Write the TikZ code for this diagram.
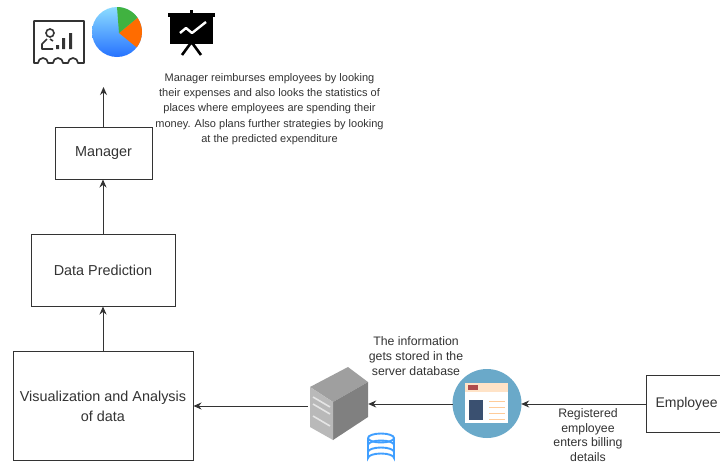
\documentclass[tikz,border=0pt]{standalone}
\usepackage{fontspec}
\setmainfont{Liberation Sans}
\usetikzlibrary{arrows.meta,positioning}
\definecolor{ink}{HTML}{333333}
\definecolor{webblue}{HTML}{6AA9C9}
\definecolor{webpanel}{HTML}{3A5070}
\tikzset{
  x=1pt,y=-1pt,
  boxn/.style={draw=ink,line width=1pt,fill=white,align=center,text=ink,font=\fontsize{14.4}{20}\selectfont,inner sep=2pt},
  note/.style={align=center,text=ink,inner sep=0pt},
  flow/.style={draw=ink,line width=1pt,-{Stealth[length=8pt,width=7pt]}},
  iconspot/.style={inner sep=0pt,minimum width=#1,minimum height=#1},
}
\begin{document}
\begin{tikzpicture}
\useasboundingbox (0,0) rectangle (720,464);
\fill[white] (0,0) rectangle (720,464);
% boxes
\node[boxn,minimum width=97pt,minimum height=52pt] (mgr) at (103.5,153) {Manager};
\node[boxn,minimum width=144pt,minimum height=72pt] (pred) at (103,270) {Data Prediction};
\node[boxn,minimum width=180pt,minimum height=109pt] (vis) at (103,406) {Visualization and Analysis\\of data};
\node[boxn,minimum width=80pt,minimum height=57pt,anchor=west,text width=76pt,align=left,inner sep=2pt,font=\fontsize{14}{20}\selectfont] (emp) at (646,404) {\hspace*{7pt}Employee};
% icon anchors
\coordinate (top) at (103,87);
\node[iconspot=60pt] (srv) at (338,404) {};
\node[iconspot=68pt,circle] (web) at (487,404) {};
% report icon
\draw[draw=ink,line width=1.7pt,line join=round]
  (34,21) -- (84,21) -- (84,63) -- (78,63) arc[start angle=0,end angle=-180,radius=5] -- (63,63)
  arc[start angle=0,end angle=-180,radius=5] -- (48,63) arc[start angle=0,end angle=-180,radius=5] -- (34,63) -- cycle;
\draw[ink,line width=1.6pt] (50,33) circle[radius=4];
\draw[ink,line width=1.6pt,line join=round] (47,39) -- (42,44) -- (42,49) -- (53,49) (53,41) -- (50,39);
\fill[ink] (56,45) rectangle (59,49) (62,38) rectangle (65,49) (69,33) rectangle (72,49);
% pie
\shade[top color=blue!30!cyan!45!white,bottom color=blue!65!cyan!85!white] (117,32) circle[radius=25];
\fill[orange!85!red] (119,33) -- ({117+25*cos(-35)},{32+25*sin(-35)}) arc[start angle=-35,end angle=38,radius=25] -- cycle;
\fill[green!60!black!75!white] (119,33) -- ({117+25*cos(-90)},{32+25*sin(-90)}) arc[start angle=-90,end angle=-35,radius=25] -- cycle;
% presentation
\fill[black] (168,13) rectangle (215,17);
\fill[black] (170,15) rectangle (213,44);
\fill[black] (190,10) rectangle (193,15);
\draw[black,line width=2.6pt] (191.5,42) -- (182,55) (191.5,42) -- (201,55);
\draw[white,line width=2.4pt,line join=round] (180,33) -- (186,28) -- (192,33) -- (206,22);
% server
\fill[gray!75] (310,387) -- (348,367) -- (368,382) -- (333,402) -- cycle;
\fill[gray] (333,402) -- (368,382) -- (368,417) -- (333,440) -- cycle;
\fill[gray!55] (310,387) -- (333,402) -- (333,440) -- (310,427) -- cycle;
\draw[gray!20,line width=1.6pt] (313,397) -- (330,407) (313,404) -- (330,414) (313,416) -- (330,426);
% web icon
\fill[webblue] (487,403.5) circle[radius=34.5];
\fill[white] (465,383) rectangle (508,423);
\fill[orange!22] (465,383) rectangle (508,392);
\fill[red!55!black!70!white] (468,385) rectangle (478,390);
\fill[webpanel] (469,400) rectangle (483,420);
\foreach \yy in {401,407,413,419} \draw[orange!40,line width=1pt] (489,\yy) -- (505,\yy);
% database
\begin{scope}[draw=blue!50!cyan!75!white,line width=1.9pt]
\draw (368,438) arc[start angle=180,end angle=540,x radius=13,y radius=4.5];
\draw (368,438) -- (368,458) arc[start angle=180,end angle=0,x radius=13,y radius=-4.5] -- (394,438);
\draw (368,445) arc[start angle=180,end angle=0,x radius=13,y radius=-4.5];
\draw (368,452) arc[start angle=180,end angle=0,x radius=13,y radius=-4.5];
\end{scope}
% connectors
\draw[flow] (mgr.north) -- (top -| mgr.north);
\draw[flow] (pred.north) -- (pred.north |- mgr.south);
\draw[flow] (vis.north) -- (pred.south);
\draw[flow] (srv.west |- vis.east) -- (vis.east);
\draw[flow] (web.west) -- (srv.east);
\draw[flow] (emp.west) -- (web.east);
% notes
\node[note,font=\fontsize{11}{15.2}\selectfont] (mnote) at (269.5,109) {Manager reimburses employees by looking\\their expenses and also looks the statistics of\\places where employees are spending their\\money. Also plans further strategies by looking\\at the predicted expenditure};
\node[note,font=\fontsize{12.3}{14.8}\selectfont] (snote) at (416,356) {The information\\gets stored in the\\server database};
\node[note,font=\fontsize{12.3}{14.6}\selectfont] (enote) at (588,435) {Registered\\employee\\enters billing\\details};
\end{tikzpicture}
\end{document}
